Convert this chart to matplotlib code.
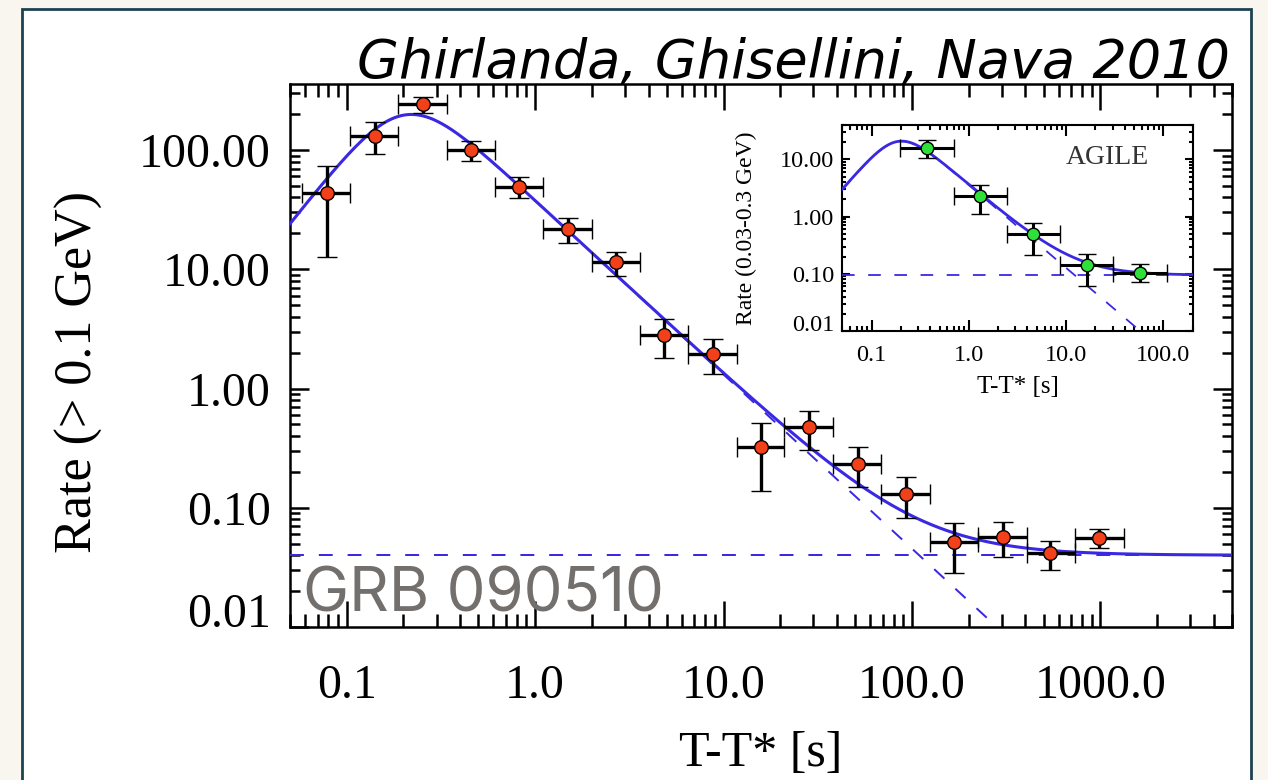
import numpy as np
import matplotlib.pyplot as plt
from matplotlib.patches import Rectangle

# GRB 090510, LAT rate (> 0.1 GeV)
t_mid = [0.0783, 0.141, 0.255, 0.457, 0.825, 1.49, 2.69, 4.86, 8.78, 15.8, 28.6,
         51.5, 93.0, 168.0, 303.0, 543.0, 989.0]
t_edges = [0.0577, 0.104, 0.188, 0.340, 0.609, 1.10, 2.00, 3.59, 6.49, 11.8, 21.0,
           38.2, 68.8, 125.0, 224.0, 407.0, 733.0, 1331.0]
rate = [43.3, 131.8, 241.7, 100.0, 49.2, 21.6, 11.4, 2.81, 1.94, 0.324, 0.477,
        0.235, 0.130, 0.0517, 0.0570, 0.0414, 0.0563]
rate_hi = [73.4, 170.8, 280.0, 119.0, 59.0, 26.7, 14.0, 3.80, 2.58, 0.516, 0.650,
           0.324, 0.1795, 0.0747, 0.0753, 0.0528, 0.0658]
rate_lo = [12.7, 92.0, 203.2, 81.3, 39.3, 16.7, 8.77, 1.82, 1.32, 0.138, 0.304,
           0.148, 0.0813, 0.0284, 0.0387, 0.0300, 0.0461]

# AGILE rate (0.03-0.3 GeV)
ag_mid = [0.373, 1.30, 4.60, 16.3, 57.6]
ag_edges = [0.195, 0.699, 2.45, 8.69, 30.6, 108.4]
ag_rate = [16.0, 2.29, 0.491, 0.143, 0.1054]
ag_hi = [22.3, 3.52, 0.786, 0.220, 0.147]
ag_lo = [10.4, 1.13, 0.211, 0.060, 0.0705]

# fitted model: smoothly broken power law + constant
lat_fit = dict(A=392.8, tb=0.2013, a=2.0, b=1.46, c=0.04)
agile_fit = dict(A=41.06, tb=0.1858, a=2.0, b=1.45, c=0.095)

BLUE = '#3b28e3'
RED = '#f2401a'
GREEN = '#2fe03a'
SERIF = 'Liberation Serif'


def sbpl(t, A, tb, a, b, c):
    x = t / tb
    return A * x**a / (1 + x**(a + b))


def add_errorbars(ax, mid, edges, y, ylo, yhi, color, ms, lw, cs):
    mid = np.array(mid)
    edges = np.array(edges)
    y = np.array(y)
    xerr = [mid - edges[:-1], edges[1:] - mid]
    yerr = [y - np.array(ylo), np.array(yhi) - y]
    ax.errorbar(mid, y, xerr=xerr, yerr=yerr, fmt='o', ms=ms, mfc=color, mec='black',
                mew=1.0, ecolor='black', elinewidth=lw, capsize=cs, capthick=lw, zorder=5)


def draw_model(ax, pars, tmin, tmax, lw, dash):
    t = np.logspace(np.log10(tmin), np.log10(tmax), 600)
    comp = sbpl(t, **pars)
    ax.plot(t, comp + pars['c'], color=BLUE, lw=lw, zorder=4)
    ax.plot(t, comp, color=BLUE, lw=lw * 0.65, dashes=dash, zorder=3)
    ax.axhline(pars['c'], color=BLUE, lw=lw * 0.65, dashes=dash, zorder=3)


def style_axes(ax, xmaj, xmin, ymaj, ymin, width, fsize, xpad, ypad):
    for s in ax.spines.values():
        s.set_linewidth(width)
    ax.tick_params(axis='x', which='major', direction='in', top=True, length=xmaj,
                   width=width, pad=xpad, labelsize=fsize)
    ax.tick_params(axis='x', which='minor', direction='in', top=True, length=xmin, width=width)
    ax.tick_params(axis='y', which='major', direction='in', right=True, length=ymaj,
                   width=width, pad=ypad, labelsize=fsize)
    ax.tick_params(axis='y', which='minor', direction='in', right=True, length=ymin, width=width)
    for lab in ax.get_xticklabels() + ax.get_yticklabels():
        lab.set_family(SERIF)
    # lowest y label sits on top of the axis, as in the IDL original
    ax.get_yticklabels()[0].set_verticalalignment('baseline')


fig = plt.figure(figsize=(12.68, 7.80), dpi=100, facecolor='#f9f6ef')
fig.patches.append(Rectangle((21.5 / 1268, -0.05), (1251 - 21.5) / 1268, 1.05 - 9.5 / 780,
                             transform=fig.transFigure, facecolor='white',
                             edgecolor='#1d4250', linewidth=2, zorder=-10))

# main panel
ax = fig.add_axes([290 / 1268, 1 - 627 / 780, 942 / 1268, 543 / 780])
ax.set_xscale('log')
ax.set_yscale('log')
ax.set_xlim(0.05, 5000)
ax.set_ylim(0.01, 358)
draw_model(ax, lat_fit, 0.05, 5000, 2.2, (7, 7.5))
add_errorbars(ax, t_mid, t_edges, rate, rate_lo, rate_hi, RED, 9.8, 2.4, 7.5)
ax.set_xticks([0.1, 1, 10, 100, 1000], ['0.1', '1.0', '10.0', '100.0', '1000.0'])
ax.set_yticks([0.01, 0.1, 1, 10, 100], ['0.01', '0.10', '1.00', '10.00', '100.00'])
style_axes(ax, 18.7, 9.4, 13.7, 7.2, 1.8, 34.5, 27, 14)
ax.set_xlabel('T-T* [s]', family=SERIF, fontsize=36, labelpad=16)
ax.set_ylabel('Rate (> 0.1 GeV)', family=SERIF, fontsize=37.5, labelpad=26)
ax.yaxis.label.set_y(0.47)
ax.text(303 / 1268, 1 - 611 / 780, 'GRB 090510', transform=fig.transFigure,
        family='Inter', fontsize=44.5, color='#736f6d', ha='left', va='baseline', zorder=6)

# AGILE inset
ins = fig.add_axes([842.3 / 1268, 1 - 331 / 780, 350.4 / 1268, 206 / 780])
ins.set_xscale('log')
ins.set_yscale('log')
ins.set_xlim(0.05, 200)
ins.set_ylim(0.01, 40)
draw_model(ins, agile_fit, 0.05, 200, 2.0, (7, 7.5))
add_errorbars(ins, ag_mid, ag_edges, ag_rate, ag_lo, ag_hi, GREEN, 9.0, 2.2, 6.5)
ins.set_xticks([0.1, 1, 10, 100], ['0.1', '1.0', '10.0', '100.0'])
ins.set_yticks([0.01, 0.1, 1, 10], ['0.01', '0.10', '1.00', '10.00'])
style_axes(ins, 8, 3.6, 5.8, 2.9, 1.5, 17.5, 10, 6)
ins.set_xlabel('T-T* [s]', family=SERIF, fontsize=18, labelpad=7)
ins.set_ylabel('Rate (0.03-0.3 GeV)', family=SERIF, fontsize=17, labelpad=16)
ins.text(0.874, 0.84, 'AGILE', transform=ins.transAxes, family=SERIF, fontsize=20,
         color='#333333', ha='right', va='center')

fig.text(1230 / 1268, 1 - 78 / 780, 'Ghirlanda, Ghisellini, Nava 2010', family='DejaVu Sans',
         style='oblique', fontsize=39, color='black', ha='right', va='baseline')

plt.savefig('out.png', dpi=100, facecolor=fig.get_facecolor())
